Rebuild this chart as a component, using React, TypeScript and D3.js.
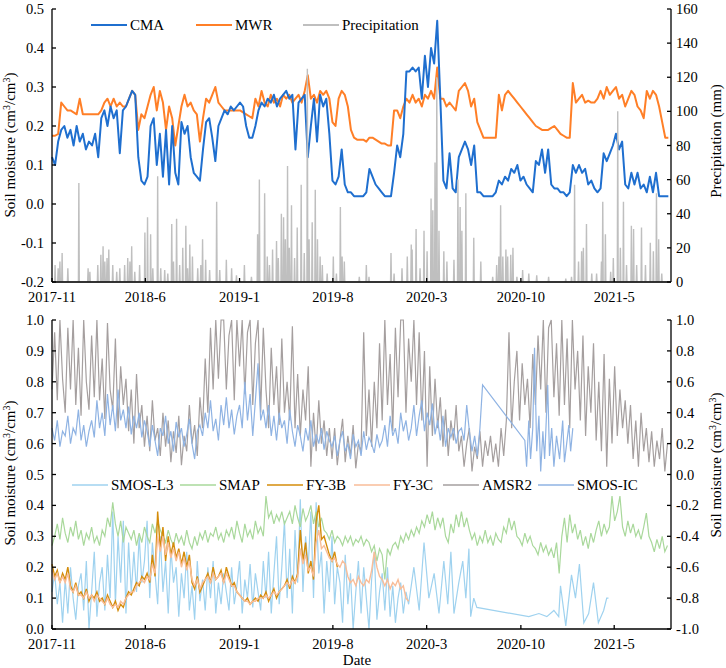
import * as d3 from 'd3';

// ---- time axis ----
const START = new Date(2017, 10, 1);
const END = new Date(2021, 8, 7);
const tickMonths = [0, 7, 14, 21, 28, 35, 42];

// ---- top panel: in-situ soil moisture (7-day samples from START) ----
const topStepDays = 7;
const cma = [
  0.12, 0.10, 0.16, 0.19, 0.20, 0.17, 0.19, 0.15, 0.20, 0.16,
  0.18, 0.14, 0.16, 0.15, 0.18, 0.12, 0.22, 0.24, 0.20, 0.25,
  0.22, 0.24, 0.13, 0.24, 0.25, 0.27, 0.29, 0.28, 0.12, 0.06,
  0.05, 0.07, 0.20, 0.22, 0.10, 0.18, 0.07, 0.19, 0.05, 0.20,
  0.08, 0.05, 0.21, 0.18, 0.20, 0.12, 0.08, 0.07, 0.06, 0.14,
  0.21, 0.22, 0.17, 0.11, 0.20, 0.22, 0.24, 0.23, 0.25, 0.24,
  0.25, 0.26, 0.25, 0.20, 0.17, 0.17, 0.20, 0.24, 0.26, 0.25,
  0.27, 0.26, 0.28, 0.25, 0.27, 0.28, 0.29, 0.27, 0.28, 0.14,
  0.26, 0.27, 0.28, 0.12, 0.20, 0.27, 0.16, 0.28, 0.25, 0.27,
  0.18, 0.06, 0.05, 0.07, 0.14, 0.05, 0.03, 0.03, 0.02, 0.02,
  0.02, 0.02, 0.03, 0.09, 0.07, 0.05, 0.04, 0.03, 0.02, 0.02,
  0.02, 0.08, 0.15, 0.12, 0.18, 0.34, 0.34, 0.35, 0.34, 0.35,
  0.27, 0.38, 0.30, 0.40, 0.36, 0.47, 0.27, 0.06, 0.04, 0.13,
  0.04, 0.03, 0.12, 0.14, 0.16, 0.14, 0.10, 0.15, 0.03, 0.03,
  0.02, 0.02, 0.02, 0.02, 0.03, 0.06, 0.05, 0.07, 0.06, 0.09,
  0.08, 0.10, 0.06, 0.07, 0.05, 0.04, 0.03, 0.11, 0.10, 0.14,
  0.08, 0.14, 0.05, 0.04, 0.04, 0.03, 0.03, 0.02, 0.03, 0.10,
  0.08, 0.10, 0.08, 0.09, 0.05, 0.06, 0.04, 0.03, 0.04, 0.13,
  0.11, 0.13, 0.15, 0.18, 0.14, 0.16, 0.05, 0.04, 0.08, 0.05,
  0.08, 0.04, 0.05, 0.03, 0.07, 0.03, 0.08, 0.02, 0.02, 0.02,
  0.02,
];
const mwr = [
  0.175, 0.175, 0.18, 0.26, 0.25, 0.24, 0.24, 0.235, 0.23, 0.27,
  0.23, 0.23, 0.23, 0.23, 0.23, 0.23, 0.24, 0.26, 0.27, 0.25,
  0.27, 0.25, 0.26, 0.25, 0.25, 0.27, 0.29, 0.28, 0.19, 0.23,
  0.22, 0.25, 0.28, 0.30, 0.24, 0.29, 0.26, 0.19, 0.25, 0.22,
  0.15, 0.20, 0.25, 0.28, 0.25, 0.26, 0.24, 0.23, 0.16, 0.22,
  0.27, 0.26, 0.28, 0.30, 0.26, 0.25, 0.24, 0.24, 0.24, 0.24,
  0.24, 0.24, 0.235, 0.23, 0.225, 0.22, 0.27, 0.25, 0.29, 0.26,
  0.25, 0.28, 0.26, 0.27, 0.25, 0.28, 0.27, 0.28, 0.26, 0.27,
  0.28, 0.26, 0.29, 0.33, 0.27, 0.28, 0.26, 0.29, 0.28, 0.29,
  0.27, 0.21, 0.20, 0.27, 0.29, 0.28, 0.25, 0.19, 0.17, 0.165,
  0.165, 0.165, 0.16, 0.17, 0.17, 0.165, 0.16, 0.155, 0.155, 0.15,
  0.15, 0.24, 0.24, 0.22, 0.25, 0.27, 0.26, 0.28, 0.26, 0.27,
  0.25, 0.28, 0.27, 0.29, 0.27, 0.35, 0.27, 0.27, 0.25, 0.26,
  0.25, 0.24, 0.29, 0.30, 0.31, 0.29, 0.25, 0.27, 0.21, 0.19,
  0.17, 0.17, 0.17, 0.17, 0.17, 0.28, 0.24, 0.28, 0.29, 0.28,
  0.27, 0.26, 0.25, 0.24, 0.23, 0.22, 0.21, 0.20, 0.195, 0.19,
  0.19, 0.19, 0.195, 0.20, 0.19, 0.18, 0.175, 0.17, 0.17, 0.31,
  0.26, 0.27, 0.28, 0.26, 0.265, 0.26, 0.26, 0.27, 0.29, 0.27,
  0.30, 0.28, 0.29, 0.30, 0.27, 0.28, 0.25, 0.27, 0.29, 0.28,
  0.25, 0.24, 0.22, 0.29, 0.27, 0.29, 0.28, 0.25, 0.21, 0.17,
  0.17,
];
// rainy days (days after START) and daily rainfall (mm); other days are 0
const precipDays = [
  7, 14, 18, 23, 36, 61, 82, 86, 104, 111, 116, 120, 125, 129, 138, 147, 154, 165, 172, 177,
  181, 188, 199, 211, 217, 224, 229, 240, 247, 256, 263, 272, 276, 283, 290, 297, 304, 308, 313, 319,
  331, 338, 342, 349, 358, 374, 381, 396, 408, 419, 437, 453, 467, 471, 483, 489, 494, 501, 510, 514,
  521, 526, 530, 535, 539, 544, 551, 557, 566, 573, 580, 584, 591, 598, 603, 609, 614, 625, 639, 646,
  655, 659, 664, 698, 714, 720, 770, 777, 795, 807, 816, 818, 827, 836, 845, 852, 861, 865, 870, 874,
  879, 890, 897, 913, 922, 927, 931, 940, 958, 974, 1001, 1010, 1015, 1019, 1024, 1031, 1035, 1042, 1047, 1056,
  1069, 1083, 1101, 1128, 1167, 1180, 1187, 1196, 1203, 1207, 1214, 1226, 1237, 1248, 1251, 1257, 1269, 1275, 1285, 1291,
  1298, 1305, 1316, 1321, 1328, 1339, 1348, 1359, 1366, 1373, 1378, 1385,
];
const precipMm = [
  10, 8, 12, 17, 8, 58, 8, 6, 10, 16, 21, 12, 14, 19, 10, 6, 8, 10, 14, 12,
  21, 6, 10, 29, 38, 28, 8, 62, 8, 7, 5, 34, 12, 37, 10, 20, 33, 8, 22, 15,
  8, 10, 25, 13, 7, 47, 7, 13, 8, 4, 10, 3, 28, 60, 52, 15, 10, 19, 24, 14,
  40, 38, 25, 68, 20, 45, 14, 32, 57, 17, 125, 25, 35, 54, 25, 15, 10, 5, 15, 5,
  44, 15, 12, 3, 10, 3, 17, 5, 8, 15, 22, 19, 31, 8, 30, 18, 49, 42, 70, 120,
  30, 18, 12, 13, 60, 44, 30, 52, 26, 12, 3, 10, 15, 45, 15, 19, 15, 16, 20, 3,
  7, 5, 4, 3, 2, 3, 57, 12, 18, 20, 34, 5, 5, 12, 47, 28, 6, 14, 100, 20,
  47, 10, 33, 31, 10, 32, 10, 23, 18, 52, 25, 5,
];

// ---- bottom panel: satellite products (6-day samples from START) ----
const botStepDays = 6;
const smosL3 = [
  0.12, 0.18, 0.08, 0.15, 0.02, 0.16, 0.05, 0.20, 0.10, 0.03,
  0.14, 0.18, 0.06, 0.22, 0.00, 0.12, 0.25, 0.04, 0.15, 0.20,
  0.06, 0.24, 0.10, 0.38, 0.08, 0.30, 0.15, 0.35, 0.05, 0.28,
  0.12, 0.25, 0.12, 0.30, 0.15, 0.22, 0.35, 0.10, 0.28, 0.18,
  0.08, 0.30, 0.12, 0.22, 0.05, 0.26, 0.15, 0.20, 0.04, 0.18,
  0.10, 0.25, 0.06, 0.14, 0.03, 0.22, 0.09, 0.16, 0.06, 0.20,
  0.10, 0.22, 0.05, 0.15, 0.08, 0.18, 0.12, 0.06, 0.20, 0.08,
  0.14, 0.22, 0.05, 0.16, 0.10, 0.21, 0.07, 0.18, 0.12, 0.06,
  0.22, 0.10, 0.25, 0.05, 0.18, 0.30, 0.08, 0.20, 0.35, 0.10,
  0.26, 0.05, 0.32, 0.15, 0.42, 0.12, 0.30, 0.20, 0.38, 0.10,
  0.41, 0.18, 0.25, 0.05, 0.22, 0.12, 0.30, 0.08, 0.20, 0.15,
  0.02, 0.24, 0.08, 0.18, 0.00, 0.12, 0.22, 0.05, 0.20, 0.10,
  0.00, 0.16, 0.25, 0.03, 0.12, 0.18, 0.06, 0.20, 0.04, 0.14,
  0.02, 0.10, 0.15, 0.05, 0.12, 0.08,
];
const smosL3TailDays = [
  822, 834, 845, 856, 868, 879, 890, 899, 906, 913, 924, 933, 940, 947, 951, 958, 965,
  1083, 1106, 1124, 1140, 1151, 1155, 1167, 1180, 1189, 1198, 1208, 1219, 1230, 1241, 1253, 1260, 1264,
];
const smosL3TailVals = [
  0.20, 0.06, 0.28, 0.10, 0.18, 0.05, 0.22, 0.08, 0.25, 0.05, 0.15, 0.22, 0.10, 0.26, 0.04, 0.10, 0.07,
  0.04, 0.05, 0.04, 0.06, 0.04, 0.14, 0.01, 0.175, 0.10, 0.21, 0.02, 0.05, 0.15, 0.02, 0.06, 0.10, 0.10,
];
const smap = [
  0.27, 0.30, 0.34, 0.29, 0.36, 0.31, 0.28, 0.33, 0.30, 0.35,
  0.29, 0.32, 0.27, 0.31, 0.29, 0.33, 0.28, 0.30, 0.27, 0.32,
  0.30, 0.36, 0.33, 0.41, 0.34, 0.30, 0.35, 0.28, 0.33, 0.31,
  0.29, 0.32, 0.27, 0.31, 0.28, 0.33, 0.30, 0.28, 0.34, 0.31,
  0.35, 0.32, 0.30, 0.28, 0.32, 0.29, 0.27, 0.31, 0.28, 0.30,
  0.27, 0.32, 0.28, 0.26, 0.30, 0.27, 0.31, 0.29, 0.32, 0.28,
  0.31, 0.30, 0.33, 0.29, 0.31, 0.28, 0.32, 0.30, 0.33, 0.29,
  0.35, 0.31, 0.28, 0.34, 0.30, 0.32, 0.29, 0.35, 0.31, 0.33,
  0.30, 0.43, 0.36, 0.38, 0.34, 0.37, 0.35, 0.38, 0.34, 0.36,
  0.38, 0.34, 0.40, 0.36, 0.33, 0.39, 0.35, 0.37, 0.40, 0.34,
  0.38, 0.33, 0.36, 0.32, 0.31, 0.29, 0.32, 0.28, 0.30, 0.29,
  0.27, 0.30, 0.28, 0.30, 0.27, 0.29, 0.28, 0.30, 0.27, 0.29,
  0.28, 0.25, 0.27, 0.22, 0.26, 0.24, 0.16, 0.26, 0.24, 0.27,
  0.28, 0.26, 0.30, 0.28, 0.31, 0.29, 0.32, 0.30, 0.33, 0.31,
  0.35, 0.33, 0.37, 0.34, 0.38, 0.32, 0.36, 0.33, 0.36, 0.30,
  0.28, 0.34, 0.31, 0.37, 0.33, 0.38, 0.33, 0.36, 0.32, 0.29,
  0.31, 0.27, 0.30, 0.28, 0.32, 0.28, 0.30, 0.27, 0.31, 0.29,
  0.28, 0.33, 0.31, 0.36, 0.32, 0.35, 0.30, 0.29, 0.27, 0.31,
  0.28, 0.30, 0.27, 0.26, 0.24, 0.28, 0.25, 0.27, 0.24, 0.26,
  0.23, 0.28, 0.18, 0.30, 0.36, 0.28, 0.37, 0.31, 0.34, 0.29,
  0.32, 0.27, 0.30, 0.26, 0.31, 0.28, 0.32, 0.35, 0.30, 0.34,
  0.31, 0.33, 0.43, 0.35, 0.38, 0.43, 0.33, 0.30, 0.35, 0.31,
  0.34, 0.30, 0.32, 0.29, 0.33, 0.375, 0.30, 0.28, 0.25, 0.29,
  0.26, 0.30, 0.25, 0.27,
];
const fy3b = [
  0.21, 0.17, 0.19, 0.15, 0.18, 0.16, 0.20, 0.14, 0.12, 0.15,
  0.11, 0.12, 0.10, 0.13, 0.09, 0.11, 0.10, 0.12, 0.09, 0.10,
  0.08, 0.11, 0.09, 0.07, 0.09, 0.06, 0.08, 0.07, 0.10, 0.12,
  0.11, 0.13, 0.15, 0.14, 0.17, 0.16, 0.18, 0.15, 0.24, 0.17,
  0.38, 0.26, 0.33, 0.22, 0.30, 0.24, 0.28, 0.23, 0.26, 0.21,
  0.25, 0.20, 0.24, 0.15, 0.13, 0.17, 0.12, 0.14, 0.16, 0.18,
  0.15, 0.20, 0.16, 0.17, 0.19, 0.15, 0.20, 0.17, 0.14, 0.15,
  0.12, 0.11, 0.10, 0.09, 0.10, 0.08, 0.09, 0.10, 0.09, 0.11,
  0.10, 0.12, 0.09, 0.11, 0.13, 0.10, 0.12, 0.13, 0.14, 0.16,
  0.13, 0.17, 0.15, 0.18, 0.32, 0.22, 0.28, 0.18, 0.22, 0.16,
  0.35, 0.40, 0.29, 0.30, 0.27, 0.24, 0.22, 0.25, 0.20,
];
const fy3c = [
  0.19, 0.16, 0.18, 0.15, 0.17, 0.15, 0.18, 0.13, 0.12, 0.14,
  0.11, 0.11, 0.10, 0.12, 0.10, 0.11, 0.09, 0.11, 0.10, 0.09,
  0.08, 0.10, 0.08, 0.07, 0.08, 0.07, 0.09, 0.08, 0.10, 0.11,
  0.12, 0.12, 0.14, 0.15, 0.16, 0.15, 0.17, 0.16, 0.21, 0.18,
  0.30, 0.25, 0.30, 0.24, 0.28, 0.23, 0.26, 0.22, 0.25, 0.20,
  0.23, 0.19, 0.22, 0.16, 0.14, 0.16, 0.13, 0.15, 0.16, 0.17,
  0.15, 0.18, 0.16, 0.17, 0.18, 0.15, 0.18, 0.16, 0.14, 0.14,
  0.12, 0.11, 0.10, 0.09, 0.09, 0.08, 0.09, 0.09, 0.10, 0.10,
  0.10, 0.11, 0.10, 0.11, 0.12, 0.11, 0.12, 0.13, 0.14, 0.15,
  0.14, 0.16, 0.15, 0.17, 0.26, 0.21, 0.24, 0.19, 0.20, 0.17,
  0.28, 0.32, 0.26, 0.27, 0.25, 0.23, 0.22, 0.23, 0.21, 0.20,
  0.22, 0.21, 0.17, 0.15, 0.16, 0.14, 0.17, 0.15, 0.14, 0.16,
  0.15, 0.19, 0.25, 0.20, 0.17, 0.16, 0.14, 0.16, 0.13, 0.15,
  0.14, 0.16, 0.13, 0.14, 0.10, 0.09,
];
// right-axis products
const amsr2 = [
  0.55, 0.92, 0.48, 1.00, 0.62, 0.40, 0.95, 0.55, 1.00, 0.45,
  0.82, 0.38, 1.00, 0.60, 0.42, 0.90, 0.50, 1.00, 0.48, 0.75,
  0.36, 0.98, 0.55, 0.42, 0.88, 0.30, 0.70, 0.45, 0.62, 0.28,
  0.55, 0.20, 0.65, 0.30, 0.45, 0.18, 0.38, 0.15, 0.48, 0.22,
  0.30, 0.12, 0.40, 0.18, 0.35, 0.08, 0.28, 0.14, 0.38, 0.06,
  0.25, 0.15, 0.45, 0.20, 0.32, 0.12, 0.50, 0.30, 0.75, 0.40,
  0.95, 0.55, 1.00, 0.62, 1.00, 1.00, 0.55, 0.90, 1.00, 0.48,
  1.00, 0.70, 1.00, 0.52, 0.92, 1.00, 0.45, 0.85, 1.00, 0.40,
  0.95, 0.55, 0.30, 0.82, 0.45, 0.70, 0.32, 0.88, 0.40, 0.60,
  0.35, 0.96, 0.30, 0.65, 0.25, 0.55, 0.35, 0.70, 0.05, 0.40,
  0.15, 0.48, 0.20, 0.35, 0.12, 0.30, 0.10, 0.30, 0.06, 0.22,
  0.36, 0.08, 0.25, 0.12, 0.32, 0.04, 0.20, 0.15, 0.92, 0.25,
  0.55, 0.18, 0.60, 0.30, 0.85, 0.35, 1.00, 0.45, 0.78, 0.28,
  0.95, 0.50, 1.00, 1.00, 0.40, 0.88, 0.60, 1.00, 0.45, 0.92,
  0.35, 0.80, 0.05, 0.70, 0.25, 0.62, 0.30, 0.50, 0.18, 0.42,
  0.12, 0.35, 0.22, 0.45, 0.15, 0.25, 0.05, 0.20, 0.30, 0.02,
  0.18, 0.10, 0.28, 0.05, 0.22, 0.12, 0.25, 0.08, 0.20, 0.05,
  0.30, 0.12, 0.35, 0.92, 0.30, 0.60, 0.80, 0.35, 0.72, 0.45,
  0.62, 0.30, 0.78, 0.45, 0.90, 0.55, 1.00, 0.40, 0.95, 1.00,
  0.50, 0.85, 0.38, 1.00, 0.45, 0.88, 0.30, 1.00, 0.55, 0.80,
  0.35, 0.90, 0.25, 0.70, 0.40, 0.85, 0.22, 0.60, 0.15, 0.78,
  0.05, 0.62, 0.20, 0.70, 0.25, 0.55, 0.30, 0.48, 0.20, 0.45,
  0.10, 0.35, 0.05, 0.40, 0.15, 0.30, 0.08, 0.28, 0.05, 0.22,
  0.10, 0.30, 0.02, 0.20,
];
const smosIc = [
  0.30, 0.22, 0.35, 0.18, 0.28, 0.25, 0.38, 0.20, 0.30, 0.26,
  0.42, 0.22, 0.32, 0.18, 0.28, 0.35, 0.24, 0.48, 0.30, 0.40,
  0.25, 0.52, 0.32, 0.45, 0.28, 0.55, 0.35, 0.42, 0.30, 0.44,
  0.26, 0.38, 0.30, 0.40, 0.24, 0.35, 0.28, 0.18, 0.32, 0.22,
  0.12, 0.30, 0.25, 0.38, 0.20, 0.28, 0.15, 0.34, 0.24, 0.30,
  0.18, 0.26, 0.36, 0.20, 0.10, 0.28, 0.32, 0.25, 0.40, 0.30,
  0.48, 0.28, 0.36, 0.22, 0.45, 0.32, 0.50, 0.30, 0.42, 0.26,
  0.38, 0.45, 0.30, 0.60, 0.35, 0.52, 0.25, 0.48, 0.72, 0.35,
  0.42, 0.30, 0.45, 0.25, 0.38, 0.22, 0.40, 0.30, 0.35, 0.20,
  0.42, 0.28, 0.18, 0.32, 0.25, 0.15, 0.30, 0.22, 0.35, 0.18,
  0.26, 0.20, 0.30, 0.16, 0.28, 0.22, 0.18, 0.25, 0.12, 0.22,
  0.28, 0.15, 0.20, 0.10, 0.26, 0.18, 0.22, 0.12, 0.28, 0.16,
  0.24, 0.20, 0.14, 0.26, 0.18, 0.22, 0.32, 0.18, 0.38, 0.25,
  0.30, 0.20, 0.40, 0.28, 0.35, 0.22, 0.30, 0.45, 0.25, 0.38,
  0.48, 0.28, 0.40, 0.32, 0.46, 0.26, 0.35, 0.22, 0.38, 0.18,
  0.30, 0.24, 0.30, 0.20, 0.28, 0.30, 0.22, 0.45, 0.28, 0.15,
  0.25, 0.12, 0.30, 0.58,
];
const smosIcTailDays = [
  1074, 1078, 1083, 1087, 1092, 1096, 1101, 1106, 1110, 1115, 1119, 1126,
  1130, 1135, 1140, 1146, 1153, 1160, 1164, 1169, 1174, 1178, 1183,
];
const smosIcTailVals = [
  0.22, 0.05, 0.35, 0.10, 0.30, 0.82, 0.15, 0.38, 0.02, 0.28, 0.10, 0.58,
  0.12, 0.30, 0.05, 0.25, 0.10, 0.35, 0.08, 0.20, 0.32, 0.15, 0.30,
];

const C = {
  cma: '#1f6fcf',
  mwr: '#ff7f27',
  precip: '#bfbfbf',
  smosL3: '#9fd2ef',
  smap: '#a9d89b',
  fy3b: '#d48c0a',
  fy3c: '#f9bd98',
  amsr2: '#a59f9f',
  smosIc: '#8fb3e3',
};

const FONT = '"Liberation Serif", "Times New Roman", serif';

type Pt = { date: Date; v: number };
const day = (d: number) => d3.timeDay.offset(START, d);
const stepped = (vals: number[], step: number): Pt[] => vals.map((v, i) => ({ date: day(i * step), v }));
const withTail = (vals: number[], step: number, days: number[], tail: number[]): Pt[] =>
  stepped(vals, step).concat(days.map((d, i) => ({ date: day(d), v: tail[i] })));

export default function App() {
  const W = 726, H = 668;
  const L = 52, R = 671;
  const topT = 9, topB = 282;
  const botT = 320, botB = 629;

  const x = d3.scaleTime().domain([START, END]).range([L, R]);
  const yTL = d3.scaleLinear().domain([-0.2, 0.5]).range([topB, topT]);
  const yTR = d3.scaleLinear().domain([0, 160]).range([topB, topT]);
  const yBL = d3.scaleLinear().domain([0, 1]).range([botB, botT]);
  const yBR = d3.scaleLinear().domain([-1, 1]).range([botB, botT]);

  const path = (pts: Pt[], y: d3.ScaleLinear<number, number>) =>
    d3.line<Pt>().x(d => x(d.date)).y(d => y(d.v))(pts) || '';

  // daily precipitation, zero on days without rain
  const nDays = d3.timeDay.count(START, END);
  const daily = new Array(nDays).fill(0);
  precipDays.forEach((d, i) => { daily[d] = precipMm[i]; });
  const precipPts = stepped(daily, 1);

  const xTicks = tickMonths.map(m => d3.timeMonth.offset(START, m));
  const fmt = d3.timeFormat('%Y-%-m');

  const txt = { fontFamily: FONT, fontSize: 14.5, fill: '#000' } as const;

  const xAxis = (yb: number, key: string) => (
    <g key={key}>
      <line x1={L} x2={R} y1={yb} y2={yb} stroke="#000" strokeWidth={1.3} />
      {xTicks.map((t, i) => (
        <g key={i}>
          <line x1={x(t)} x2={x(t)} y1={yb} y2={yb - 4} stroke="#000" strokeWidth={1.3} />
          <text x={x(t)} y={yb + 20} textAnchor="middle" {...txt}>{fmt(t)}</text>
        </g>
      ))}
    </g>
  );

  const yAxis = (scale: d3.ScaleLinear<number, number>, ticks: number[], side: 'l' | 'r', key: string) => {
    const ax = side === 'l' ? L : R;
    const [r0, r1] = scale.range();
    return (
      <g key={key}>
        <line x1={ax} x2={ax} y1={r0} y2={r1} stroke="#000" strokeWidth={1.3} />
        {ticks.map((t, i) => (
          <g key={i}>
            <line x1={ax} x2={side === 'l' ? ax + 4 : ax - 4} y1={scale(t)} y2={scale(t)} stroke="#000" strokeWidth={1.3} />
            <text x={side === 'l' ? ax - 8 : ax + 5} y={scale(t)} dy="0.35em"
              textAnchor={side === 'l' ? 'end' : 'start'} {...txt}>
              {Number.isInteger(t) && side === 'r' && scale === yTR ? String(t) : t.toFixed(1)}
            </text>
          </g>
        ))}
      </g>
    );
  };

  const legend = (items: { label: string; color: string; x: number; w?: number }[], y: number, sw: number) =>
    items.map(it => (
      <g key={it.label}>
        <line x1={it.x} x2={it.x + 36} y1={y} y2={y} stroke={it.color} strokeWidth={sw} />
        <text x={it.x + 39} y={y} dy="0.35em" {...txt} fontSize={15}>{it.label}</text>
      </g>
    ));

  const smTitle = (tx: number, ty: number) => (
    <text transform={`translate(${tx},${ty}) rotate(-90)`} textAnchor="middle" {...txt} fontSize={15}>
      Soil moisture (cm<tspan dy={-5} fontSize={10}>3</tspan><tspan dy={5}>/cm</tspan>
      <tspan dy={-5} fontSize={10}>3</tspan><tspan dy={5}>)</tspan>
    </text>
  );

  return (
    <svg width={W} height={H} style={{ position: 'absolute', left: 0, top: 0, background: '#fff' }}>
      <rect width={W} height={H} fill="#fff" />

      {/* top panel */}
      <path d={path(stepped(mwr, topStepDays), yTL)} fill="none" stroke={C.mwr} strokeWidth={2} strokeLinejoin="round" />
      <path d={path(stepped(cma, topStepDays), yTL)} fill="none" stroke={C.cma} strokeWidth={2} strokeLinejoin="round" />
      <path d={path(precipPts, yTR)} fill="none" stroke={C.precip} strokeWidth={1.4} />
      {xAxis(topB, 'xt')}
      {yAxis(yTL, d3.range(-0.2, 0.51, 0.1).map(v => +v.toFixed(1)), 'l', 'ytl')}
      {yAxis(yTR, d3.range(0, 161, 20), 'r', 'ytr')}
      {legend([
        { label: 'CMA', color: C.cma, x: 91 },
        { label: 'MWR', color: C.mwr, x: 196 },
        { label: 'Precipitation', color: C.precip, x: 303 },
      ], 25, 2)}
      {smTitle(15, 145)}
      <text transform="translate(721,141) rotate(-90)" textAnchor="middle" {...txt} fontSize={15}>Precipitation (mm)</text>

      {/* bottom panel */}
      <path d={path(withTail(smosL3, botStepDays, smosL3TailDays, smosL3TailVals), yBL)} fill="none" stroke={C.smosL3} strokeWidth={1.2} />
      <path d={path(stepped(smap, botStepDays), yBL)} fill="none" stroke={C.smap} strokeWidth={1.2} />
      <path d={path(stepped(fy3b, botStepDays), yBL)} fill="none" stroke={C.fy3b} strokeWidth={1.4} />
      <path d={path(stepped(fy3c, botStepDays), yBL)} fill="none" stroke={C.fy3c} strokeWidth={1.4} />
      <path d={path(stepped(amsr2, botStepDays), yBR)} fill="none" stroke={C.amsr2} strokeWidth={1.2} />
      <path d={path(withTail(smosIc, botStepDays, smosIcTailDays, smosIcTailVals), yBR)} fill="none" stroke={C.smosIc} strokeWidth={1.2} />
      {xAxis(botB, 'xb')}
      {yAxis(yBL, d3.range(0, 1.01, 0.1).map(v => +v.toFixed(1)), 'l', 'ybl')}
      {yAxis(yBR, d3.range(-1, 1.01, 0.2).map(v => +v.toFixed(1)), 'r', 'ybr')}
      {legend([
        { label: 'SMOS-L3', color: C.smosL3, x: 72 },
        { label: 'SMAP', color: C.smap, x: 180 },
        { label: 'FY-3B', color: C.fy3b, x: 267 },
        { label: 'FY-3C', color: C.fy3c, x: 354 },
        { label: 'AMSR2', color: C.amsr2, x: 443 },
        { label: 'SMOS-IC', color: C.smosIc, x: 538 },
      ], 485, 1.5)}
      {smTitle(15, 473)}
      {smTitle(721, 465)}
      <text x={357} y={665} textAnchor="middle" {...txt} fontSize={15}>Date</text>
    </svg>
  );
}
